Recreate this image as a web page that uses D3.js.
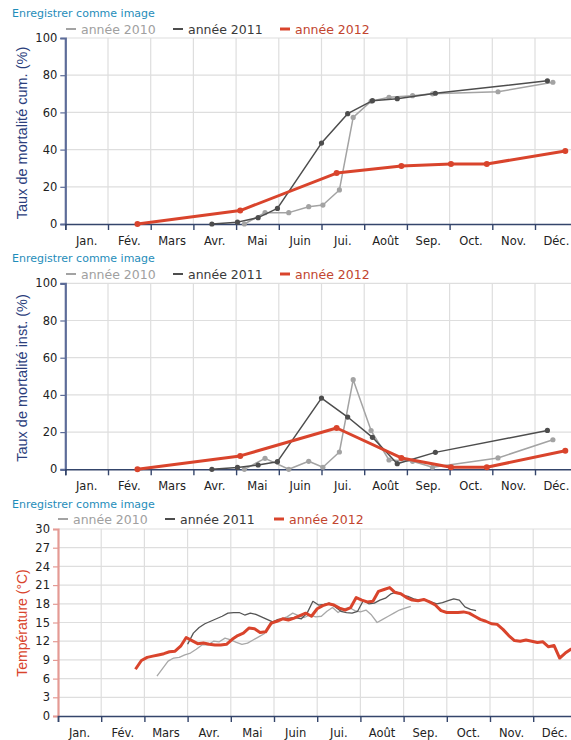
<!DOCTYPE html>
<html><head><meta charset="utf-8">
<script src="https://cdn.jsdelivr.net/npm/d3@7"></script>
<style>body{margin:0;background:#fff;} svg{display:block;}</style>
</head><body><svg id="c" width="571" height="740"></svg>
<script>
// ---------- DATA ----------
const months = ["Jan.","Fév.","Mars","Avr.","Mai","Juin","Jui.","Août","Sep.","Oct.","Nov.","Déc."];
const seriesNames = ["année 2010","année 2011","année 2012"];

// mortality sampling dates (MM-DD)
const dates2010 = ["05-07","05-22","06-08","06-22","07-02","07-14","07-24","08-06","08-19","09-05","09-19","11-05","12-14"];
const dates2011 = ["04-14","05-02","05-17","05-31","07-01","07-20","08-07","08-25","09-21","12-10"];
const dates2012 = ["02-21","05-04","07-12","08-28","10-02","10-28","12-23"];

// cumulative mortality (%)
const cum2010 = [0, 6.1, 6.1, 9.3, 10.2, 18.3, 57.3, 66, 68.1, 69, 70, 71.1, 76.2];
const cum2011 = [0, 1, 3.4, 8.4, 43.5, 59.3, 66.3, 67.4, 70.3, 77];
const cum2012 = [0, 7.2, 27.4, 31.2, 32.3, 32.3, 39.2];

// instantaneous mortality (%)
const inst2010 = [0, 5.9, 0, 4.3, 1.1, 9.3, 48.2, 20.8, 5, 4.3, 1.1, 6.1, 15.9];
const inst2011 = [0, 1, 2.3, 4.1, 38.3, 28.1, 17.2, 3, 9.1, 20.9];
const inst2012 = [0, 7.2, 22.2, 6.1, 1.1, 1.1, 10];

// temperature (°C), one reading every 4 days from the start date
const tempStep = 4;
const tempStart2010 = "03-10";
const temp2010 = [6.4,7.6,8.8,9.3,9.4,9.8,10.1,10.7,11.4,11.4,12.0,11.9,12.5,12.2,11.8,11.5,11.7,12.2,12.7,13.2,14.5,15.2,15.6,15.9,16.5,16.1,15.8,16.2,15.9,16.0,16.8,17.4,16.6,17.2,17.4,16.9,16.7,17.0,16.2,15.0,15.5,16.0,16.5,17.0,17.3,17.6];
const tempStart2011 = "04-01";
const temp2011 = [11.5,13.3,14.2,14.8,15.2,15.6,16.0,16.5,16.6,16.6,16.2,16.5,16.3,15.9,15.5,15.1,15.5,15.6,15.7,15.8,15.6,16.5,18.4,17.8,17.9,18.1,17.5,16.8,16.6,16.5,16.8,18.5,18.0,18.1,18.6,18.9,19.6,19.9,19.4,19.2,18.8,18.6,18.6,18.3,18.0,18.2,18.5,18.8,18.6,17.5,17.1,16.9];
const tempStart2012 = "02-24";
const temp2012 = [7.5,8.9,9.4,9.6,9.8,10.0,10.3,10.4,11.2,12.6,12.1,11.6,11.7,11.5,11.4,11.4,11.5,12.3,12.9,13.3,14.1,14.0,13.4,13.5,14.9,15.2,15.6,15.4,15.7,16.1,16.5,16.0,17.2,17.7,18.0,17.8,17.3,17.0,17.4,19.0,18.6,18.3,18.4,20.0,20.3,20.6,19.8,19.6,19.0,18.6,18.5,18.7,18.3,17.8,16.9,16.6,16.6,16.6,16.7,16.5,16.0,15.5,15.2,14.8,14.7,13.9,12.9,12.1,12.0,12.2,12.0,11.8,11.9,11.1,11.3,9.3,10.1,10.7,10.9];

// ---------- HELPERS ----------
const colors = {y2010:"#a3a3a3", y2011:"#4d4d4d", y2012:"#d9442c"};
const textColors = ["#a0a0a0","#3a3a3a","#c2452f"];
const legendColors = [colors.y2010, colors.y2011, colors.y2012];

function parseMD(s){ const [m,d]=s.split("-").map(Number); return new Date(2012, m-1, d); }
function monthPos(d){
  const y=d.getFullYear(), m=d.getMonth();
  const dim = new Date(y, m+1, 0).getDate();
  return (y-2012)*12 + m + (d.getDate()-1)/dim;
}
function pts(dates, vals){ return dates.map((s,i)=>({m:monthPos(parseMD(s)), v:vals[i]})); }
function tempPts(start, vals){
  const s = parseMD(start);
  return vals.map((v,i)=>({m:monthPos(d3.timeDay.offset(s, i*tempStep)), v}));
}

const svg = d3.select("#c");
const W = 571;

function drawChart(cfg){
  const g = svg.append("g");
  const x = d3.scaleLinear().domain([0,12]).range([cfg.left, cfg.left + 12*cfg.monthW]);
  const y = d3.scaleLinear().domain([0,cfg.ymax]).range([cfg.bottom, cfg.top]);
  const yTicks = d3.range(0, cfg.ymax + 0.001, cfg.ystep);

  // save link
  g.append("text").attr("x",12).attr("y",cfg.saveY)
    .attr("font-family","DejaVu Sans, Verdana, sans-serif").attr("font-size",11)
    .attr("fill","#1f8dba").text("Enregistrer comme image");

  // legend
  cfg.legend.forEach((L,i)=>{
    g.append("line").attr("x1",L.x).attr("x2",L.x+10).attr("y1",cfg.legendY).attr("y2",cfg.legendY)
      .attr("stroke",legendColors[i]).attr("stroke-width", i==2?3:2);
    g.append("text").attr("x",L.x+15).attr("y",cfg.legendY+4.5)
      .attr("font-family","DejaVu Sans, Verdana, sans-serif").attr("font-size",12.5)
      .attr("fill",textColors[i]).text(seriesNames[i]);
  });

  // grid
  g.append("g").selectAll("line").data(yTicks.slice(1)).join("line")
    .attr("x1",cfg.left).attr("x2",W).attr("y1",d=>y(d)).attr("y2",d=>y(d))
    .attr("stroke","#dedede").attr("stroke-width",1.2);
  g.append("g").selectAll("line").data(d3.range(1,13)).join("line")
    .attr("x1",d=>x(d)).attr("x2",d=>x(d)).attr("y1",cfg.top).attr("y2",cfg.bottom)
    .attr("stroke","#dedede").attr("stroke-width",1.2);

  // y axis
  const ya = g.append("g").attr("transform",`translate(${cfg.left},0)`)
    .call(d3.axisLeft(y).tickValues(yTicks).tickSize(5).tickPadding(3));
  ya.select(".domain").attr("stroke",cfg.yAxisColor).attr("stroke-width",2.2);
  ya.selectAll(".tick line").attr("stroke",cfg.yAxisColor).attr("stroke-width",1.2);
  ya.selectAll("text").attr("font-family","DejaVu Sans, Verdana, sans-serif").attr("font-size",11.5).attr("fill","#222");

  // x axis
  const xa = g.append("g").attr("transform",`translate(0,${cfg.bottom})`)
    .call(d3.axisBottom(x).tickValues(d3.range(0,13)).tickSize(6).tickFormat(""));
  xa.select(".domain").attr("stroke","#34456b").attr("stroke-width",1.6);
  xa.selectAll(".tick line").attr("stroke","#34456b").attr("stroke-width",1.4);
  g.append("g").selectAll("text").data(months).join("text")
    .attr("x",(d,i)=>x(i+0.5)).attr("y",cfg.bottom+21)
    .attr("text-anchor","middle")
    .attr("font-family","DejaVu Sans, Verdana, sans-serif").attr("font-size",11.5)
    .attr("fill","#222").text(d=>d);

  // y title
  g.append("text").attr("transform",`translate(${cfg.titleX},${cfg.titleY}) rotate(-90)`)
    .attr("text-anchor","middle")
    .attr("font-family","Liberation Sans, Arial, sans-serif").attr("font-size",cfg.titleSize)
    .attr("fill",cfg.titleColor).text(cfg.title);

  // series
  const line = d3.line().x(d=>x(d.m)).y(d=>y(d.v));
  cfg.series.forEach(s=>{
    g.append("path").datum(s.data).attr("d",line).attr("fill","none")
      .attr("stroke",s.color).attr("stroke-width",s.width).attr("stroke-linejoin","round");
    if(s.r){
      g.append("g").selectAll("circle").data(s.data).join("circle")
        .attr("cx",d=>x(d.m)).attr("cy",d=>y(d.v)).attr("r",s.r).attr("fill",s.color);
    }
  });
}

const legendTop = [{x:66},{x:173},{x:280}];

drawChart({
  left:65.3, monthW:42.7, top:38, bottom:224, ymax:100, ystep:20,
  saveY:17, legendY:29, legend:legendTop,
  yAxisColor:"#5d6c98", title:"Taux de mortalité cum. (%)", titleX:27, titleY:133, titleSize:14.5, titleColor:"#2b3e7c",
  series:[
    {data:pts(dates2010,cum2010), color:colors.y2010, width:1.5, r:2.6},
    {data:pts(dates2011,cum2011), color:colors.y2011, width:1.5, r:2.6},
    {data:pts(dates2012,cum2012), color:colors.y2012, width:3, r:3}
  ]
});

drawChart({
  left:65.3, monthW:42.7, top:283.3, bottom:469.3, ymax:100, ystep:20,
  saveY:262, legendY:274, legend:legendTop,
  yAxisColor:"#5d6c98", title:"Taux de mortalité inst. (%)", titleX:27, titleY:378, titleSize:14.5, titleColor:"#2b3e7c",
  series:[
    {data:pts(dates2010,inst2010), color:colors.y2010, width:1.5, r:2.6},
    {data:pts(dates2011,inst2011), color:colors.y2011, width:1.5, r:2.6},
    {data:pts(dates2012,inst2012), color:colors.y2012, width:3, r:3}
  ]
});

drawChart({
  left:58, monthW:43.2, top:529, bottom:716, ymax:30, ystep:3,
  saveY:508, legendY:519, legend:[{x:58},{x:165},{x:274}],
  yAxisColor:"#e49a94", title:"Température (°C)", titleX:27, titleY:623, titleSize:14, titleColor:"#d9442c",
  series:[
    {data:tempPts(tempStart2010,temp2010), color:"#a8a8a8", width:1.3},
    {data:tempPts(tempStart2011,temp2011), color:"#555", width:1.3},
    {data:tempPts(tempStart2012,temp2012), color:colors.y2012, width:3}
  ]
});
</script></body></html>
